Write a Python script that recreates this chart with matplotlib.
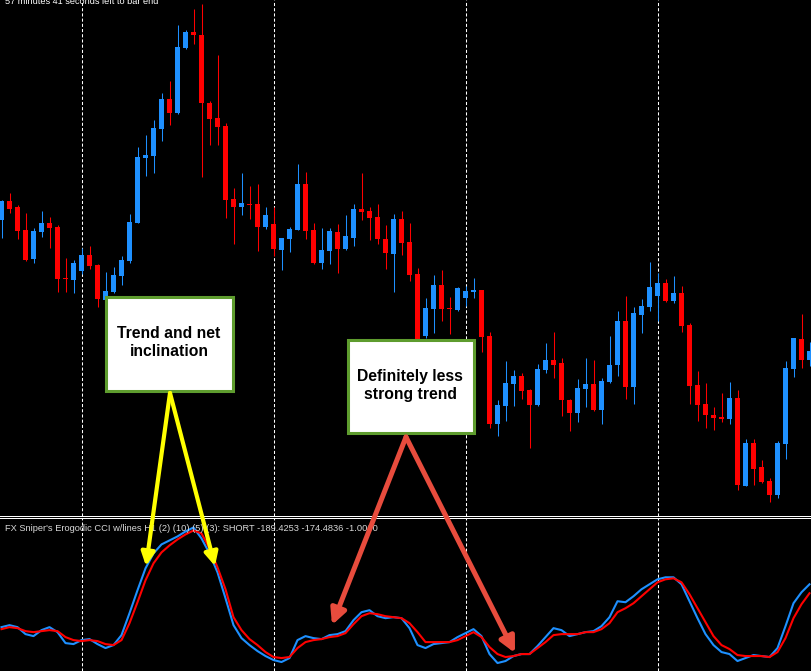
import matplotlib
matplotlib.use("Agg")
import matplotlib.pyplot as plt
from matplotlib.patches import Rectangle
import numpy as np

# hourly candles (price in chart points), one per bar
opens = [380, 399, 393, 370, 341, 368, 377, 373, 322, 320, 329, 345, 335, 300, 308, 324, 339, 377, 442, 444,
         471, 501, 487, 552, 568, 565, 497, 482, 474, 401, 393, 396, 396, 373, 376, 350, 361, 370, 416, 370,
         337, 349, 368, 351, 362, 391, 389, 383, 361, 346, 381, 358, 326, 264, 291, 315, 292, 290, 302, 308,
         310, 264, 176, 194, 216, 224, 210, 195, 230, 240, 237, 200, 187, 211, 216, 190, 218, 235, 279, 213,
         285, 293, 304, 317, 299, 307, 275, 215, 196, 185, 183, 181, 202, 114, 157, 133, 119, 105, 156, 231,
         261, 240]
highs = [400, 407, 395, 387, 372, 389, 383, 375, 342, 340, 352, 354, 336, 328, 333, 344, 386, 453, 465, 480,
         507, 519, 575, 570, 591, 596, 499, 545, 477, 412, 427, 414, 416, 393, 393, 362, 373, 436, 428, 377,
         372, 372, 376, 385, 396, 427, 393, 396, 375, 386, 389, 377, 332, 302, 325, 330, 303, 313, 314, 322,
         310, 268, 200, 239, 230, 227, 211, 236, 257, 268, 242, 201, 221, 242, 240, 222, 264, 289, 304, 293,
         301, 338, 327, 321, 324, 314, 277, 229, 217, 193, 207, 218, 210, 161, 161, 140, 122, 159, 239, 262,
         286, 258]
lows = [362, 387, 361, 339, 337, 363, 352, 308, 308, 307, 326, 331, 293, 295, 307, 315, 337, 377, 424, 427,
        459, 475, 486, 551, 556, 423, 455, 455, 382, 356, 385, 381, 349, 371, 344, 330, 348, 370, 361, 336,
        331, 336, 327, 350, 354, 380, 360, 356, 331, 308, 345, 319, 250, 262, 267, 279, 266, 289, 294, 302,
        248, 172, 164, 179, 194, 201, 152, 194, 227, 222, 184, 169, 178, 193, 189, 176, 217, 224, 201, 196,
        267, 289, 279, 298, 297, 268, 196, 179, 172, 170, 178, 176, 110, 114, 115, 117, 98, 102, 141, 223,
        232, 234]
closes = [399, 391, 369, 340, 369, 377, 372, 321, 321, 337, 345, 334, 301, 309, 325, 340, 378, 443, 445, 472,
          501, 487, 553, 568, 565, 497, 481, 473, 400, 393, 397, 395, 373, 385, 351, 362, 371, 416, 369, 337,
          350, 369, 351, 364, 391, 388, 382, 361, 347, 381, 357, 325, 255, 292, 315, 291, 291, 312, 309, 310,
          263, 176, 195, 217, 224, 209, 195, 231, 240, 235, 200, 187, 212, 216, 190, 219, 235, 279, 213, 287,
          294, 313, 317, 299, 307, 274, 214, 195, 185, 182, 181, 202, 115, 157, 131, 118, 105, 157, 232, 262,
          240, 249]

# FX Sniper's Ergodic CCI: fast (blue) and signal (red)
cci_fast = [-27, -25, -27, -34, -36, -30, -27, -32, -43, -44, -40, -39, -44, -48, -45, -35, -13, 10, 32, 47,
            56, 60, 64, 69, 73, 62, 47, 28, 2, -25, -38, -45, -51, -56, -60, -62, -58, -40, -36, -38,
            -39, -35, -34, -31, -20, -12, -10, -16, -18, -17, -18, -28, -45, -48, -44, -43, -42, -37, -33, -29,
            -36, -54, -63, -61, -56, -54, -54, -46, -37, -28, -30, -36, -34, -32, -31, -26, -17, -1, -2, 4,
            11, 16, 21, 23, 23, 16, -1, -18, -34, -45, -52, -54, -61, -58, -55, -56, -57, -48, -26, -3,
            8, 16]
cci_signal = [-29, -27, -28, -31, -32, -31, -30, -31, -37, -40, -41, -40, -41, -44, -45, -40, -23, -2, 20, 37,
              48, 55, 61, 66, 70, 67, 52, 33, 11, -17, -30, -39, -45, -52, -57, -58, -57, -48, -42, -40,
              -39, -37, -36, -33, -24, -16, -13, -14, -16, -17, -18, -23, -32, -42, -42, -42, -42, -40, -36, -32,
              -37, -47, -54, -57, -56, -54, -54, -48, -42, -35, -34, -34, -34, -32, -32, -29, -23, -12, -8, -3,
              4, 11, 18, 21, 22, 18, 6, -8, -22, -36, -45, -49, -55, -56, -56, -56, -57, -52, -38, -18,
              -4, 7]

day_breaks = [10, 34, 58, 82]

indicator_label = "FX Sniper's Erogodic CCI w/lines H1 (2) (10) (5) (3): SHORT -189.4253 -174.4836 -1.0000"
timer_label = "57 minutes 41 seconds left to bar end"

W, H = 811, 671
UP = '#1e90ff'
DOWN = '#ff0000'
GREEN = '#5e9c2e'

fig = plt.figure(figsize=(W / 100, H / 100), dpi=100, facecolor='black')


def px_axes(top, bottom):
    a = fig.add_axes([0, 1 - bottom / H, 1, (bottom - top) / H])
    a.set_facecolor('black')
    a.set_xticks([])
    a.set_yticks([])
    for s in a.spines.values():
        s.set_visible(False)
    a.set_xlim(-1.5 / 8, (W - 1.5) / 8)
    return a


ax = px_axes(0, 515.5)
ind = px_axes(517.5, 671)

o = np.array(opens)
c = np.array(closes)
x = np.arange(len(o))
cols = np.where(c >= o, UP, DOWN)

ax.vlines(x, lows, highs, colors=cols, linewidth=0.75, zorder=2)
ax.bar(x, np.maximum(np.abs(c - o), 1), bottom=np.minimum(o, c), width=0.62,
       color=cols, linewidth=0, zorder=3)
ax.set_ylim(85, 600)
ax.spines['bottom'].set_visible(True)
ax.spines['bottom'].set_color('white')
ax.spines['bottom'].set_linewidth(0.72)

ind.plot(x, cci_fast, color=UP, lw=1.5, zorder=3)
ind.plot(x, cci_signal, color=DOWN, lw=1.5, zorder=4)
ind.set_ylim(-71, 83)
ind.spines['top'].set_visible(True)
ind.spines['top'].set_color('white')
ind.spines['top'].set_linewidth(0.72)

for a in (ax, ind):
    for b in day_breaks:
        a.axvline(b, color='white', lw=0.75, ls=(0, (3, 2)), zorder=1)

# overlay in pixel coordinates for the notes
ov = fig.add_axes([0, 0, 1, 1])
ov.set_xlim(0, W)
ov.set_ylim(H, 0)
ov.axis('off')
ov.patch.set_alpha(0)

lab = ov.text(5, 531, indicator_label, color='#d8d8d8', fontsize=7,
              family='Liberation Sans', va='baseline', zorder=1)
tim = ov.text(5, 3.5, timer_label, color='white', fontsize=7,
              family='Liberation Sans', va='baseline', zorder=1)
fig.canvas.draw()
for t, target in ((lab, 373), (tim, 153)):
    w = t.get_window_extent().width
    t.set_fontsize(t.get_fontsize() * target / w)

ov.add_patch(Rectangle((105.5, 296.5), 127, 94, facecolor='white', edgecolor=GREEN, lw=2.2, zorder=2))
ov.add_patch(Rectangle((347.5, 339.5), 126, 93, facecolor='white', edgecolor=GREEN, lw=2.2, zorder=2))
ov.text(169, 343, "Trend and net\ninclination", ha='center', va='center', fontsize=11.3,
        fontweight='bold', family='Liberation Sans', linespacing=1.25, color='black', zorder=3)
ov.text(410, 385, "Definitely less\nstrong trend", ha='center', va='center', fontsize=11.3,
        fontweight='bold', family='Liberation Sans', linespacing=1.25, color='black', zorder=3)

yellow = dict(arrowstyle='-|>', color='#ffff00', lw=3, mutation_scale=20, shrinkA=0, shrinkB=0)
for tip in [(146, 566), (215, 566)]:
    ov.annotate('', xy=tip, xytext=(170, 393), arrowprops=yellow, zorder=4)

salmon = dict(arrowstyle='-|>', color='#e84c3d', lw=3.6, mutation_scale=23, shrinkA=0, shrinkB=0)
for tip in [(332, 625), (515, 653)]:
    ov.annotate('', xy=tip, xytext=(406, 437), arrowprops=salmon, zorder=4)

fig.savefig('out.png', dpi=100, facecolor='black')
